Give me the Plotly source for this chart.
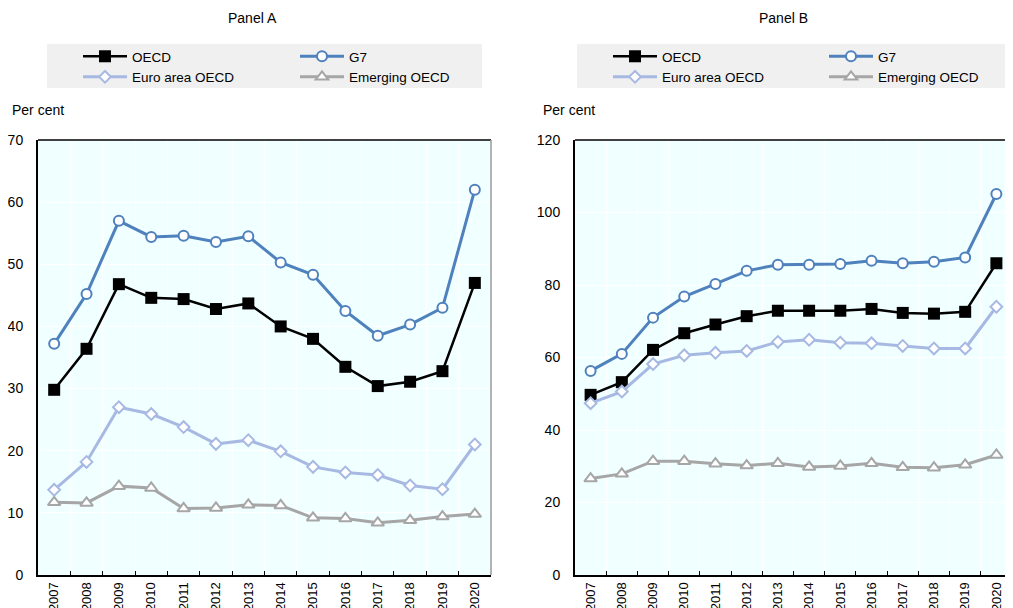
import plotly.graph_objects as go

# The page body adds an 8px margin; the figure is sized and laid out to compensate.
OFF = 8
W, H = 1013 - OFF, 608 - OFF

years = ["2007", "2008", "2009", "2010", "2011", "2012", "2013",
         "2014", "2015", "2016", "2017", "2018", "2019", "2020"]

# Panel A
a_oecd = [29.8, 36.4, 46.8, 44.6, 44.4, 42.8, 43.7, 40.0, 38.0, 33.5, 30.4, 31.1, 32.8, 47.0]
a_g7 = [37.2, 45.2, 57.0, 54.4, 54.6, 53.6, 54.5, 50.3, 48.3, 42.5, 38.5, 40.3, 43.0, 62.0]
a_euro = [13.7, 18.2, 27.0, 25.9, 23.8, 21.1, 21.7, 19.9, 17.4, 16.5, 16.1, 14.4, 13.8, 21.0]
a_emerg = [11.7, 11.6, 14.3, 14.0, 10.7, 10.8, 11.3, 11.2, 9.2, 9.1, 8.4, 8.8, 9.4, 9.8]

# Panel B
b_oecd = [49.7, 53.2, 62.1, 66.7, 69.1, 71.4, 72.9, 72.9, 72.9, 73.4, 72.3, 72.1, 72.6, 86.0]
b_g7 = [56.3, 61.0, 71.0, 76.8, 80.3, 83.9, 85.6, 85.6, 85.8, 86.7, 86.0, 86.4, 87.6, 105.1]
b_euro = [47.4, 50.6, 58.2, 60.6, 61.3, 61.8, 64.3, 64.9, 64.1, 63.9, 63.2, 62.5, 62.5, 74.0]
b_emerg = [26.6, 27.9, 31.4, 31.4, 30.7, 30.2, 30.8, 29.8, 30.1, 30.8, 29.7, 29.6, 30.4, 33.1]

series_names = ["OECD", "G7", "Euro area OECD", "Emerging OECD"]
FONT = "Liberation Sans, Arial, sans-serif"

styles = {
    "OECD": dict(line=dict(color="#000000", width=2.5),
                 marker=dict(symbol="square", size=12, color="#000000",
                             line=dict(color="#000000", width=0))),
    "G7": dict(line=dict(color="#4F81BD", width=3),
               marker=dict(symbol="circle", size=10, color="#FFFFFF",
                           line=dict(color="#4F81BD", width=2))),
    "Euro area OECD": dict(line=dict(color="#A7B9E3", width=3),
                           marker=dict(symbol="diamond", size=9, color="#FFFFFF",
                                       line=dict(color="#A7B9E3", width=2))),
    "Emerging OECD": dict(line=dict(color="#A6A6A6", width=3),
                          marker=dict(symbol="triangle-up", size=11, color="#FFFFFF",
                                      line=dict(color="#A6A6A6", width=2))),
}

fig = go.Figure()

panels = [
    ("x", "y", [a_oecd, a_g7, a_euro, a_emerg], ["legend", "legend2", "legend", "legend2"]),
    ("x2", "y2", [b_oecd, b_g7, b_euro, b_emerg], ["legend3", "legend4", "legend3", "legend4"]),
]
for xa, ya, data, legs in panels:
    for name, vals, lg in zip(series_names, data, legs):
        st = styles[name]
        fig.add_trace(go.Scatter(
            x=years, y=vals, name=name, mode="lines+markers",
            line=st["line"], marker=st["marker"],
            xaxis=xa, yaxis=ya, legend=lg, showlegend=True,
        ))

def px(x):
    return (x - OFF) / W

def py(y):
    return 1 - (y - OFF) / H

xdomA = [px(38), px(491)]
xdomB = [px(575), px(1012)]
ydom = [py(575), py(140)]

axis_common_x = dict(
    type="category", range=[-0.5, len(years) - 0.5],
    tickson="boundaries", ticks="inside", ticklen=4,
    tickcolor="#000000", tickangle=-90, showgrid=True, gridcolor="#FFFFFF",
    gridwidth=1, showline=True, linecolor="#000000", linewidth=2, mirror=False,
    automargin=False,
    tickfont=dict(family=FONT, size=13, color="#000000"), fixedrange=True,
)
axis_common_y = dict(
    showgrid=True, gridcolor="#FFFFFF", gridwidth=1, showline=True,
    linecolor="#000000", linewidth=2, zeroline=False, ticks="",
    ticklabelstandoff=10, automargin=False,
    tickfont=dict(family=FONT, size=14, color="#000000"), fixedrange=True,
)

fig.update_layout(
    template="none",
    width=W, height=H,
    margin=dict(l=0, r=0, t=0, b=0, pad=0),
    paper_bgcolor="#FFFFFF",
    plot_bgcolor="#F0FFFF",
    font=dict(family=FONT, size=14, color="#000000"),
    xaxis=dict(domain=xdomA, anchor="y", **axis_common_x),
    yaxis=dict(domain=ydom, anchor="x", range=[0, 70], dtick=10, **axis_common_y),
    xaxis2=dict(domain=xdomB, anchor="y2", **axis_common_x),
    yaxis2=dict(domain=ydom, anchor="x2", range=[0, 120], dtick=20, **axis_common_y),
)

leg_common = dict(orientation="v", bgcolor="rgba(0,0,0,0)", borderwidth=0,
                  xanchor="left", yanchor="top", y=py(41), itemwidth=44,
                  font=dict(family=FONT, size=13.5, color="#000000"),
                  itemclick=False, itemdoubleclick=False)
fig.update_layout(
    legend=dict(x=px(78), **leg_common),
    legend2=dict(x=px(295), **leg_common),
    legend3=dict(x=px(608), **leg_common),
    legend4=dict(x=px(824), **leg_common),
)

shapes = []
for x0, x1 in [(47, 482), (577, 1012)]:
    shapes.append(dict(type="rect", xref="paper", yref="paper",
                       x0=px(x0), x1=px(x1), y0=py(88), y1=py(44),
                       fillcolor="#F0F0F0", line=dict(width=0), layer="below"))
# top and right frame lines
for xr, yr in [("x domain", "y domain"), ("x2 domain", "y2 domain")]:
    shapes.append(dict(type="line", xref=xr, yref=yr, x0=0, x1=1, y0=1, y1=1,
                       line=dict(color="#000000", width=1.5)))
    shapes.append(dict(type="line", xref=xr, yref=yr, x0=1, x1=1, y0=0, y1=1,
                       line=dict(color="#9A9A9A", width=1.5)))
fig.update_layout(shapes=shapes)

annotations = [
    dict(text="Panel A", x=px(252), y=py(18), xref="paper", yref="paper",
         showarrow=False, xanchor="center", yanchor="middle",
         font=dict(family=FONT, size=14)),
    dict(text="Panel B", x=px(783), y=py(18), xref="paper", yref="paper",
         showarrow=False, xanchor="center", yanchor="middle",
         font=dict(family=FONT, size=14)),
    dict(text="Per cent", x=px(10), y=py(110), xref="paper", yref="paper",
         showarrow=False, xanchor="left", yanchor="middle",
         font=dict(family=FONT, size=14)),
    dict(text="Per cent", x=px(541), y=py(110), xref="paper", yref="paper",
         showarrow=False, xanchor="left", yanchor="middle",
         font=dict(family=FONT, size=14)),
]
fig.update_layout(annotations=annotations)

fig.write_html("out.html")
